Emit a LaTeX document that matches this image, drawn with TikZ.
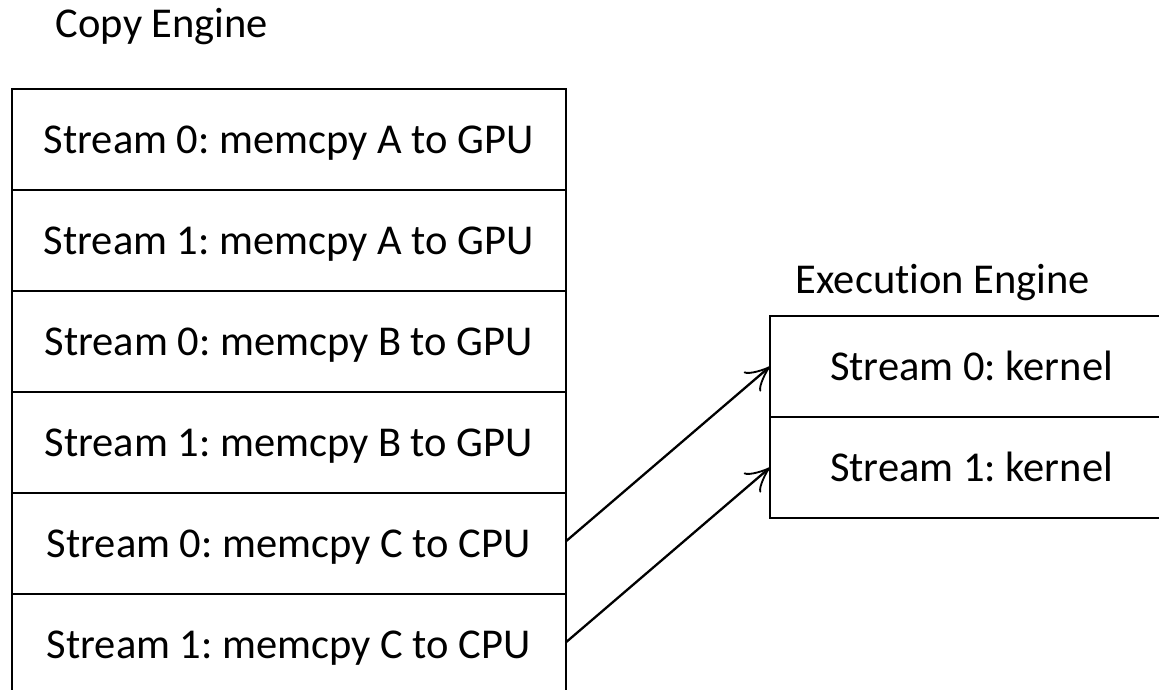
\documentclass[tikz,border=0pt]{standalone}
\usepackage{fontspec}
\setmainfont{Carlito}
\usetikzlibrary{arrows.meta}
\frenchspacing
\begin{document}
\begin{tikzpicture}[x=1pt,y=-1pt,
  cell/.style={draw, line width=2.3pt, inner sep=0pt, outer sep=0pt,
    minimum height=101pt, text height=27.2pt, text depth=0pt,
    font=\fontsize{42.5}{50}\selectfont},
  copycell/.style={cell, minimum width=554pt},
  execcell/.style={cell, minimum width=403pt},
  title/.style={inner sep=0pt, anchor=base, font=\fontsize{42.5}{50}\selectfont},
  link/.style={line width=2.3pt, -{Classical TikZ Rightarrow[length=24pt,width=26pt]}}]
\clip (0,0) rectangle (1159,690);
\fill[white] (0,0) rectangle (1159,690);
\node[title] (ce) at (162,38) {Copy Engine};
\node[title] (ee) at (943,293) {Execut\kern0pt ion Engine};
\node[copycell] (r1) at (288.7,139.5) {Stream 0: memcpy A to GPU};
\node[copycell] (r2) at (288.7,240.5) {Stream 1: memcpy A to GPU};
\node[copycell] (r3) at (288.7,341.5) {Stream 0: memcpy B to GPU};
\node[copycell] (r4) at (288.7,442.5) {Stream 1: memcpy B to GPU};
\node[copycell] (r5) at (288.7,543.5) {Stream 0: memcpy C to CPU};
\node[copycell] (r6) at (288.7,644.5) {Stream 1: memcpy C to CPU};
\node[execcell] (e1) at (971.5,366.5) {Stream 0: kernel};
\node[execcell] (e2) at (971.5,467.5) {Stream 1: kernel};
\draw[link] ([yshift=2pt]r5.east) -- (e1.west);
\draw[link] ([yshift=2pt]r6.east) -- (e2.west);
\end{tikzpicture}
\end{document}
